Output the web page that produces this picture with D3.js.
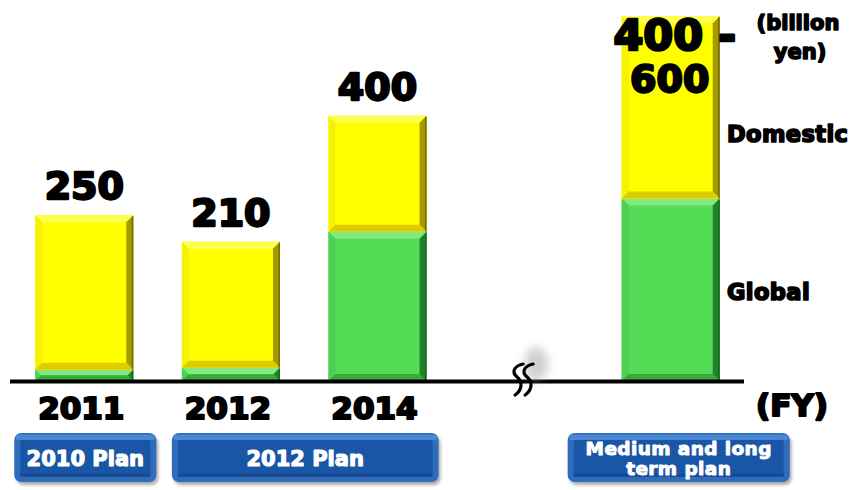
<!DOCTYPE html>
<html>
<head>
<meta charset="utf-8">
<script src="https://cdn.jsdelivr.net/npm/d3@7"></script>
<style>
  html, body { margin: 0; padding: 0; background: #fff; }
  svg { display: block; }
  text { font-family: "DejaVu Sans", "Liberation Sans", sans-serif; font-weight: bold; }
</style>
</head>
<body>
<svg id="chart" width="856" height="490"></svg>
<script>
// ---- data (billion yen) ----
const slots = ["2011", "2012", "2014", "gap", "plan"];          // x slots, "gap" holds the axis break
const barKeys = ["2011", "2012", "2014", "plan"];
const yearLabels = ["2011", "2012", "2014", ""];
const totals = [250, 210, 400, 550];                             // plan bar drawn inside its 400-600 range
const totalLabels = [["250"], ["210"], ["400"], ["400 -", "600"]];
const globalValues = [17, 20, 225, 275];
const domesticValues = totals.map((t, i) => t - globalValues[i]);
const seriesNames = ["Global", "Domestic"];
const planNames = [["2010 Plan"], ["2012 Plan"], ["Medium and long", "term plan"]];
const planFirst = ["2011", "2012", "plan"];
const planLast = ["2011", "2014", "plan"];
const unitLabel = ["(billion", "yen)"];
const axisLabel = "(FY)";

// ---- layout ----
const W = 856, H = 490;
const svg = d3.select("#chart");
svg.append("rect").attr("width", W).attr("height", H).attr("fill", "#fff");

const x = d3.scaleBand().domain(slots).range([11, 744]).paddingInner(0.331).paddingOuter(0.1655);
const y = d3.scaleLinear().domain([0, 600]).range([381, -17]);

const defs = svg.append("defs");
const blur = defs.append("filter").attr("id", "soft").attr("x", "-50%").attr("y", "-50%").attr("width", "200%").attr("height", "200%");
blur.append("feGaussianBlur").attr("stdDeviation", 4);
const blur2 = defs.append("filter").attr("id", "soft2").attr("x", "-20%").attr("y", "-20%").attr("width", "140%").attr("height", "140%");
blur2.append("feGaussianBlur").attr("stdDeviation", 1.5);

const palettes = {
  Global:   { base: "#55dc57", top: "#80ea80", left: "#4fd052", right: "#23802a", bottom: "#3aa83d", edge: "#145c18" },
  Domestic: { base: "#ffff00", top: "#ffff50", left: "#f6f200", right: "#a49a00", bottom: "#ddcc00", edge: "#5e5800" }
};

// a rectangle with bevelled edges
function bevelRect(g, x0, y0, w, h, pal) {
  const b = Math.min(7, h / 2, w / 2);
  const x1 = x0 + w, y1 = y0 + h;
  g.append("rect").attr("x", x0).attr("y", y0).attr("width", w).attr("height", h).attr("fill", pal.base);
  const poly = (pts, fill) => g.append("polygon").attr("points", pts.map(p => p.join(",")).join(" ")).attr("fill", fill);
  poly([[x0, y0], [x1, y0], [x1 - b, y0 + b], [x0 + b, y0 + b]], pal.top);
  poly([[x0, y0], [x0 + b, y0 + b], [x0 + b, y1 - b], [x0, y1]], pal.left);
  poly([[x1, y0], [x1, y1], [x1 - b, y1 - b], [x1 - b, y0 + b]], pal.right);
  poly([[x0, y1], [x0 + b, y1 - b], [x1 - b, y1 - b], [x1, y1]], pal.bottom);
  g.append("rect").attr("x", x1 - 1.5).attr("y", y0 + 1).attr("width", 1.5).attr("height", Math.max(0, h - 1)).attr("fill", pal.edge).attr("opacity", 0.7);
}

// ---- stacked bars ----
const barsG = svg.append("g");
barKeys.forEach((k, i) => {
  const bx = x(k), bw = x.bandwidth();
  const g = barsG.append("g");
  // Global (bottom)
  bevelRect(g, bx, y(globalValues[i]), bw, y(0) - y(globalValues[i]), palettes.Global);
  // Domestic (top)
  const yTop = y(globalValues[i] + domesticValues[i]);
  bevelRect(g, bx, yTop, bw, y(globalValues[i]) - yTop, palettes.Domestic);
});

// ---- baseline ----
svg.append("line").attr("x1", 10).attr("x2", 744).attr("y1", 381.5).attr("y2", 381.5)
  .attr("stroke", "#000").attr("stroke-width", 4);

// ---- axis break ----
const bxc = x("gap") + x.bandwidth() / 2;
svg.append("ellipse").attr("cx", bxc + 12).attr("cy", 364).attr("rx", 12).attr("ry", 17)
  .attr("fill", "#999").attr("opacity", 0.45).attr("filter", "url(#soft)");
[0, 10].forEach(dx => {
  const cx = bxc - 8 + dx;
  svg.append("path")
    .attr("d", `M${cx + 7},${364} C${cx - 2},${366} ${cx - 5},${372} ${cx + 1},${377} C${cx + 7},${382} ${cx + 6},${390} ${cx - 1},${395}`)
    .attr("fill", "none").attr("stroke", "#000").attr("stroke-width", 3.2).attr("stroke-linecap", "round");
});

// ---- value labels ----
const heavy = w => sel => sel.attr("fill", "#000").attr("stroke", "#000").attr("stroke-width", w)
  .attr("stroke-linejoin", "round").attr("paint-order", "stroke");
barKeys.forEach((k, i) => {
  const cx = x(k) + x.bandwidth() / 2;
  const lines = totalLabels[i];
  if (lines.length === 1) {
    svg.append("text").attr("x", cx).attr("y", y(totals[i]) - 16).attr("text-anchor", "middle")
      .attr("font-size", 38).text(lines[0]).call(heavy(2.4));
  } else {
    svg.append("text").attr("x", cx + 4).attr("y", 50).attr("text-anchor", "middle")
      .attr("font-size", 43).text(lines[0]).call(heavy(2.6));
    svg.append("text").attr("x", cx - 1).attr("y", 92).attr("text-anchor", "middle")
      .attr("font-size", 38).text(lines[1]).call(heavy(2.4));
  }
});

// ---- year labels ----
barKeys.forEach((k, i) => {
  if (!yearLabels[i]) return;
  svg.append("text").attr("x", x(k) + x.bandwidth() / 2 - 3).attr("y", 419).attr("text-anchor", "middle")
    .attr("font-size", 31).text(yearLabels[i]).call(heavy(2.2));
});
svg.append("text").attr("x", 792).attr("y", 416).attr("text-anchor", "middle").attr("font-size", 31).text(axisLabel).call(heavy(2.2));

// ---- unit & series labels ----
svg.append("text").attr("x", 798).attr("y", 30).attr("text-anchor", "middle").attr("font-size", 21).text(unitLabel[0]).call(heavy(1.6));
svg.append("text").attr("x", 800).attr("y", 59).attr("text-anchor", "middle").attr("font-size", 21).text(unitLabel[1]).call(heavy(1.6));
svg.append("text").attr("x", 727).attr("y", 142).attr("font-size", 22.5).attr("letter-spacing", 0.4).text(seriesNames[1]).call(heavy(1.7));
svg.append("text").attr("x", 727).attr("y", 300).attr("font-size", 22.5).attr("letter-spacing", 0.4).text(seriesNames[0]).call(heavy(1.7));

// ---- plan boxes ----
const planPad = [[21, 23], [10, 12], [54, 70]];
planNames.forEach((lines, i) => {
  const x0 = x(planFirst[i]) - planPad[i][0];
  const x1 = x(planLast[i]) + x.bandwidth() + planPad[i][1];
  const y0 = 433, h = 49, w = x1 - x0;
  const g = svg.append("g");
  g.append("rect").attr("x", x0 + 2).attr("y", y0 + 3).attr("width", w).attr("height", h).attr("rx", 7)
    .attr("fill", "#777").attr("opacity", 0.6).attr("filter", "url(#soft2)");
  g.append("rect").attr("x", x0).attr("y", y0).attr("width", w).attr("height", h).attr("rx", 7).attr("fill", "#2f6cbc");
  g.append("rect").attr("x", x0 + 1.5).attr("y", y0 + 1.5).attr("width", w - 3).attr("height", 6).attr("rx", 4).attr("fill", "#4a86d2");
  g.append("rect").attr("x", x0 + 6).attr("y", y0 + 7).attr("width", w - 12).attr("height", h - 14).attr("fill", "#1a56a6");
  g.append("rect").attr("x", x0 + 6).attr("y", y0 + h - 8).attr("width", w - 12).attr("height", 3).attr("fill", "#173f80").attr("opacity", 0.7);
  const cx = (x0 + x1) / 2;
  const white = w => sel => sel.attr("fill", "#fff").attr("stroke", "#fff").attr("stroke-width", w)
    .attr("stroke-linejoin", "round").attr("paint-order", "stroke");
  if (lines.length === 1) {
    g.append("text").attr("x", cx).attr("y", y0 + 33).attr("text-anchor", "middle").attr("font-size", 21)
      .text(lines[0]).call(white(1.2));
  } else {
    g.append("text").attr("x", cx).attr("y", y0 + 22).attr("text-anchor", "middle").attr("font-size", 18.5)
      .attr("letter-spacing", 0.4).text(lines[0]).call(white(1));
    g.append("text").attr("x", cx).attr("y", y0 + 41.5).attr("text-anchor", "middle").attr("font-size", 18.5)
      .attr("letter-spacing", 0.4).text(lines[1]).call(white(1));
  }
});
</script>
</body>
</html>
